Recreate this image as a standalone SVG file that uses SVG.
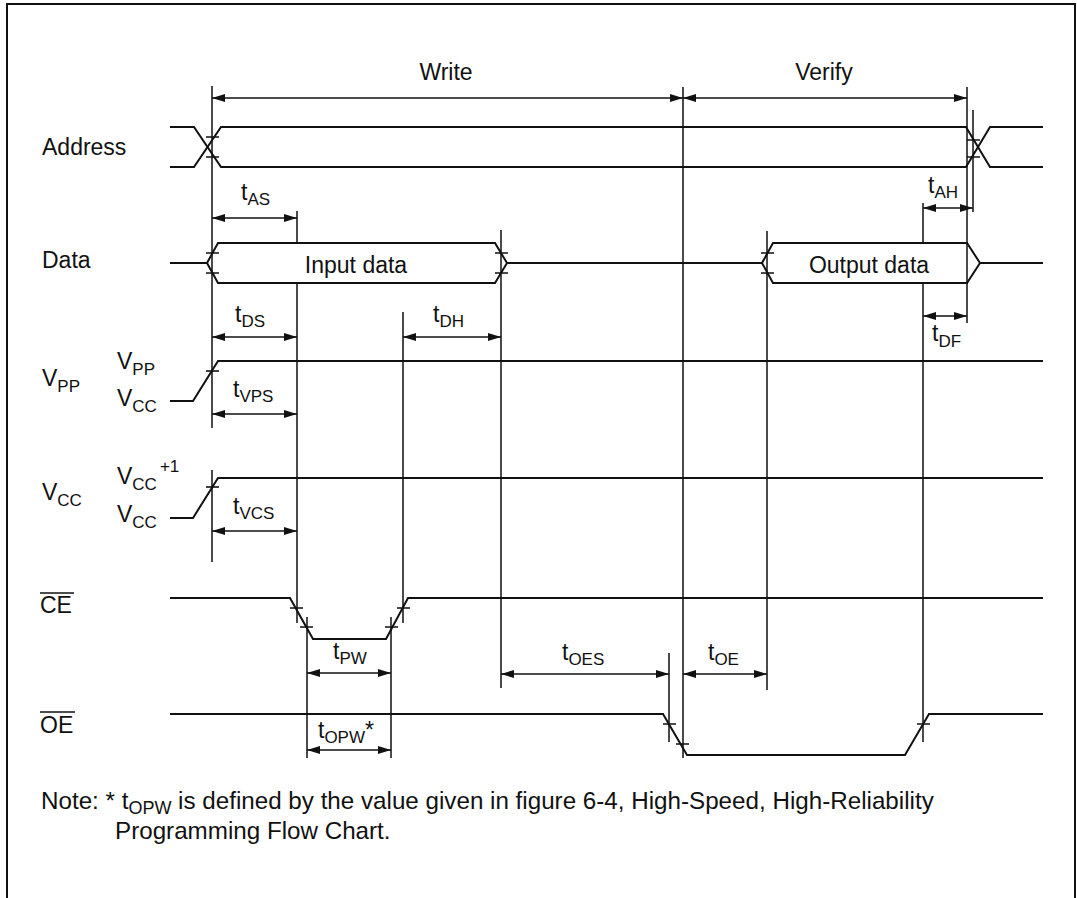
<svg xmlns="http://www.w3.org/2000/svg" width="1077" height="898" viewBox="0 0 1077 898">
<style>
text{font-family:"Liberation Sans",Arial,Helvetica,sans-serif;font-size:23px;fill:#111}
.sub{font-size:17px}
.note{font-size:24.2px}
.nsub{font-size:18px}
.sig{fill:none;stroke:#111;stroke-width:2;stroke-linejoin:miter}
.tick{stroke:#111;stroke-width:1.6}
.vl{stroke:#111;stroke-width:1.5}
.dim{stroke:#111;stroke-width:1.5;marker-start:url(#ah);marker-end:url(#ah)}
</style>
<defs>
<marker id="ah" markerUnits="userSpaceOnUse" markerWidth="14" markerHeight="10" refX="13" refY="4" orient="auto-start-reverse">
<path d="M0,0 L13,4 L0,8 z" fill="#111"/>
</marker>
</defs>
<rect width="1077" height="898" fill="#fff"/>
<path d="M7,898 V4 H1075 V898" fill="none" stroke="#111" stroke-width="2"/>

<g id="titles">
<text x="446" y="80" text-anchor="middle">Write</text>
<text x="824" y="80" text-anchor="middle">Verify</text>
</g>

<g id="address">
<text x="42" y="155">Address</text>
<path class="sig" d="M170,127 H194 L221,167 H966 L990,127 H1043"/>
<path class="sig" d="M170,167 H194 L221,127 H966 L990,167 H1043"/>
<path class="tick" d="M206,137 H219 M206,157 H219 M967,140 H980 M967,157 H980"/>
</g>

<g id="data">
<text x="42" y="268">Data</text>
<path class="sig" d="M170,263 H207"/>
<path class="sig" d="M207,263 L218,243 H495 L507,263 L495,283 H218 Z"/>
<path class="sig" d="M507,263 H762"/>
<path class="sig" d="M762,263 L773,243 H967 L980,263 L967,283 H773 Z"/>
<path class="sig" d="M980,263 H1043"/>
<path class="tick" d="M206,253 H219 M206,273 H219 M495,253 H508 M495,273 H508 M761,253 H774 M761,273 H774"/>
<text x="356" y="273" text-anchor="middle">Input data</text>
<text x="869" y="273" text-anchor="middle">Output data</text>
</g>

<g id="vpp">
<text x="42" y="386">V<tspan class="sub" dy="6">PP</tspan></text>
<text x="117" y="369">V<tspan class="sub" dy="6">PP</tspan></text>
<text x="117" y="406">V<tspan class="sub" dy="6">CC</tspan></text>
<path class="sig" d="M170,401 H193 L218,361 H1043"/>
<path class="tick" d="M206,371 H219"/>
</g>

<g id="vcc">
<text x="42" y="500">V<tspan class="sub" dy="6">CC</tspan></text>
<text x="117" y="484">V<tspan class="sub" dy="6">CC</tspan><tspan class="sub" dx="3" dy="-18">+1</tspan></text>
<text x="117" y="522">V<tspan class="sub" dy="6">CC</tspan></text>
<path class="sig" d="M170,518 H193 L218,478 H1043"/>
<path class="tick" d="M206,487 H219"/>
</g>

<g id="ce">
<text x="40" y="613">CE</text>
<path class="vl" d="M40,593 H74"/>
<path class="sig" d="M170,598 H290 L313,639 H386 L408,598 H1043"/>
<path class="tick" d="M290,608 H303 M300,627 H313 M385,627 H398 M397,608 H410"/>
</g>

<g id="oe">
<text x="40" y="733">OE</text>
<path class="vl" d="M40,712 H75"/>
<path class="sig" d="M170,714 H663 L687,755 H905 L929,714 H1043"/>
<path class="tick" d="M663,724 H676 M676,744 H689 M917,724 H930"/>
</g>

<g id="timing-lines">
<path class="vl" d="M212,86 V428 M212,470 V562 M297,211 V243 M297,283 V623 M403,312 V623 M501,230 V688 M683,87 V758 M669,653 V742 M767,231 V690 M923,203 V243 M923,283 V742 M967,87 V323 M973,110 V212 M307,617 V758 M391,617 V758"/>
</g>

<g id="connectors">
<line class="dim" x1="212" y1="98" x2="683" y2="98"/>
<line class="dim" x1="683" y1="98" x2="967" y2="98"/>
<line class="dim" x1="212" y1="218" x2="297" y2="218"/>
<line class="dim" x1="923" y1="208" x2="973" y2="208"/>
<line class="dim" x1="212" y1="337" x2="297" y2="337"/>
<line class="dim" x1="403" y1="337" x2="501" y2="337"/>
<line class="dim" x1="923" y1="316" x2="967" y2="316"/>
<line class="dim" x1="212" y1="414" x2="297" y2="414"/>
<line class="dim" x1="212" y1="531" x2="297" y2="531"/>
<line class="dim" x1="307" y1="673" x2="391" y2="673"/>
<line class="dim" x1="307" y1="750" x2="391" y2="750"/>
<line class="dim" x1="501" y1="674" x2="669" y2="674"/>
<line class="dim" x1="683" y1="674" x2="767" y2="674"/>
</g>

<g id="timing-labels">
<text x="241" y="200">t<tspan class="sub" dy="5">AS</tspan></text>
<text x="235" y="322">t<tspan class="sub" dy="5">DS</tspan></text>
<text x="433" y="322">t<tspan class="sub" dy="5">DH</tspan></text>
<text x="233" y="397">t<tspan class="sub" dy="5">VPS</tspan></text>
<text x="233" y="514">t<tspan class="sub" dy="5">VCS</tspan></text>
<text x="928" y="193">t<tspan class="sub" dy="5">AH</tspan></text>
<text x="932" y="341">t<tspan class="sub" dy="6">DF</tspan></text>
<text x="333" y="659">t<tspan class="sub" dy="5">PW</tspan></text>
<text x="318" y="738">t<tspan class="sub" dy="5">OPW</tspan><tspan dy="-5">*</tspan></text>
<text x="562" y="660">t<tspan class="sub" dy="5">OES</tspan></text>
<text x="708" y="660">t<tspan class="sub" dy="5">OE</tspan></text>
</g>

<g id="note">
<text class="note" x="41" y="809">Note: * t<tspan class="nsub" dy="5">OPW</tspan><tspan dy="-5"> is defined by the value given in figure 6-4, High-Speed, High-Reliability</tspan></text>
<text class="note" x="115" y="839">Programming Flow Chart.</text>
</g>
</svg>
